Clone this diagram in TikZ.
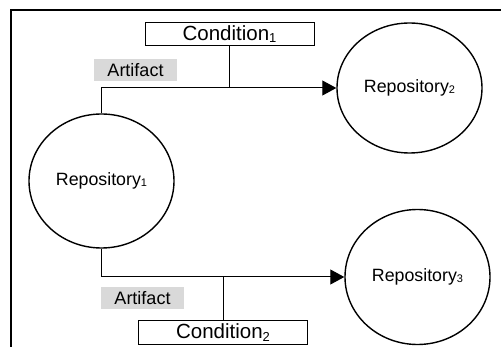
\documentclass[tikz,border=0pt]{standalone}
\usepackage{fontspec}
\setmainfont{Liberation Sans}
\usetikzlibrary{shapes.geometric,arrows.meta}
\definecolor{lblgray}{RGB}{217,217,217}
\newcommand{\reposub}[1]{\raisebox{-1pt}{\fontsize{11}{12}\selectfont #1}}
\newcommand{\condsub}[1]{\raisebox{-2.5pt}{\fontsize{13}{14}\selectfont #1}}
\tikzset{
  repo/.style={draw, ellipse, line width=1.4pt, inner sep=0pt, minimum width=145pt, minimum height=134pt, font=\fontsize{17.8}{20}\selectfont},
  condbox/.style={draw, rectangle, line width=1pt, inner sep=0pt, minimum width=169pt, minimum height=23.5pt, font=\fontsize{20.5}{22}\selectfont},
  artlabel/.style={fill=lblgray, inner sep=0pt, minimum width=83pt, minimum height=22pt, font=\fontsize{18}{20}\selectfont},
  conn/.style={line width=1pt},
  arr/.style={conn, -{Triangle[length=14pt,width=15pt]}}
}
\begin{document}
\begin{tikzpicture}[x=1pt,y=-1pt]
\useasboundingbox (0,0) rectangle (501,347);
% frame
\coordinate (ftr) at (501,10);
\coordinate (ftl) at (11,10);
\coordinate (fbl) at (11,347);
\draw[line width=2pt] (ftr) -- (ftl) -- (fbl);
% nodes
\node[repo] (r1) at (101.5,181) {Repository\reposub{1}};
\node[repo, minimum height=130pt] (r2) at (409.5,88) {Repository\reposub{2}};
\node[repo, minimum height=135pt] (r3) at (417.5,277) {Repository\reposub{3}};
\node[condbox] (c1) at (229.5,34) {Condition\condsub{1}};
\node[condbox] (c2) at (223,332.5) {Condition\condsub{2}};
\node[artlabel] (a1) at (135.5,70) {Artifact};
\node[artlabel] (a2) at (142.5,298) {Artifact};
% connectors
\draw[arr] (r1.north) |- (r2.west);
\draw[arr] (r1.south) |- (r3.west);
\draw[conn] (c1.south) -- (c1.south |- r2.west);
\draw[conn] (c2.north) -- (c2.north |- r3.west);
\end{tikzpicture}
\end{document}
